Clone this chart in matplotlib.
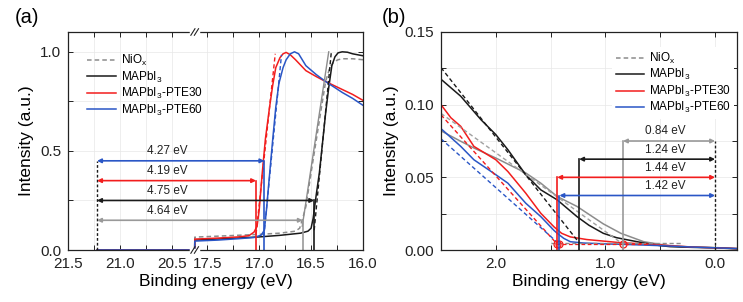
import numpy as np
import matplotlib
matplotlib.use("Agg")
import matplotlib.pyplot as plt
from matplotlib.ticker import FixedLocator, FormatStrFormatter, MultipleLocator

plt.rcParams['font.family'] = ['Liberation Sans', 'DejaVu Sans']
plt.rcParams['mathtext.default'] = 'regular'

# colours
C_GRAY = '#8c8c8c'
C_BLACK = '#1a1a1a'
C_RED = '#f21d1d'
C_BLUE = '#2a56c6'

labels = ['NiO$_x$', 'MAPbI$_3$', 'MAPbI$_3$-PTE30', 'MAPbI$_3$-PTE60']

# ---- panel (a): secondary electron cutoff ----
# broken axis: 21.5-20.28 then 17.62-16.0
BRK_L, BRK_R = 20.28, 17.62

a_gray_x = [21.22, 20.28, 17.62, 17.3, 17.0, 16.8, 16.65, 16.61, 16.58, 16.55, 16.5, 16.45,
            16.4, 16.36, 16.32, 16.28, 16.24, 16.2, 16.1, 16.0]
a_gray_y = [0, 0, 0.065, 0.072, 0.079, 0.085, 0.095, 0.11, 0.16, 0.22, 0.39, 0.555,
            0.72, 0.85, 0.92, 0.95, 0.96, 0.965, 0.965, 0.96]

a_black_x = [21.22, 20.28, 17.62, 17.3, 17.0, 16.8, 16.6, 16.53, 16.5, 16.48, 16.45, 16.42,
             16.39, 16.36, 16.33, 16.3, 16.27, 16.24, 16.2, 16.15, 16.1, 16.05, 16.0]
a_black_y = [0, 0, 0.05, 0.058, 0.066, 0.074, 0.085, 0.095, 0.11, 0.16, 0.28, 0.39,
             0.54, 0.69, 0.82, 0.93, 0.975, 0.995, 1.0, 0.998, 0.99, 0.985, 0.98]

a_red_x = [21.22, 20.28, 17.62, 17.4, 17.2, 17.1, 17.05, 17.02, 17.0, 16.97, 16.94, 16.9,
           16.87, 16.84, 16.8, 16.77, 16.74, 16.7, 16.65, 16.55, 16.45, 16.36, 16.2, 16.1, 16.0]
a_red_y = [0, 0, 0.055, 0.06, 0.066, 0.072, 0.09, 0.12, 0.2, 0.39, 0.56, 0.72,
           0.83, 0.92, 0.97, 0.99, 0.997, 0.985, 0.96, 0.905, 0.875, 0.85, 0.81, 0.785, 0.755]

a_blue_x = [21.22, 20.28, 17.62, 17.4, 17.2, 17.05, 16.98, 16.95, 16.93, 16.9, 16.87, 16.84,
            16.81, 16.77, 16.74, 16.7, 16.66, 16.62, 16.55, 16.45, 16.36, 16.2, 16.1, 16.0]
a_blue_y = [0, 0, 0.045, 0.05, 0.057, 0.063, 0.075, 0.1, 0.2, 0.38, 0.555, 0.72,
            0.84, 0.92, 0.96, 0.99, 1.0, 0.99, 0.93, 0.885, 0.85, 0.795, 0.765, 0.73]

# linear fits of the cutoff edges
a_fit_gray = ([16.585, 16.33], [0.12, 1.0])
a_fit_black = ([16.47, 16.305], [0.1, 1.0])
a_fit_red = ([17.03, 16.845], [0.08, 0.99])
a_fit_blue = ([16.955, 16.785], [0.07, 0.985])

# cutoffs (He I = 21.22 eV) and arrow heights
HE_I = 21.22
a_cut = [16.58, 16.47, 17.03, 16.95]
a_arrow_y = [0.15, 0.25, 0.35, 0.45]
a_wf_text = ['4.64 eV', '4.75 eV', '4.19 eV', '4.27 eV']

# ---- panel (b): valence band edge ----
b_gray_x = [2.5, 2.32, 2.2, 2.0, 1.727, 1.59, 1.44, 1.26, 1.02, 0.86, 0.65, 0.41, 0.2, 0.0, -0.2]
b_gray_y = [0.082, 0.0748, 0.0702, 0.0633, 0.053, 0.046, 0.0368, 0.030, 0.018, 0.0115, 0.0057,
            0.0028, 0.002, 0.0017, 0.001]

b_black_x = [2.5, 2.32, 2.136, 2.0, 1.89, 1.727, 1.59, 1.44, 1.26, 1.15, 1.02, 0.9, 0.8, 0.71,
             0.6, 0.5, 0.41, 0.3, 0.2, 0.0, -0.2]
b_black_y = [0.1175, 0.1058, 0.0897, 0.0794, 0.069, 0.0518, 0.0414, 0.0345, 0.023, 0.017, 0.0115,
             0.0085, 0.007, 0.0057, 0.0042, 0.003, 0.0023, 0.002, 0.0018, 0.0015, 0.0008]

b_red_x = [2.5, 2.41, 2.32, 2.2, 2.0, 1.89, 1.727, 1.59, 1.47, 1.4, 1.32, 1.17, 1.0, 0.86, 0.6,
           0.41, 0.2, 0.0, -0.2]
b_red_y = [0.1, 0.091, 0.0851, 0.0713, 0.0621, 0.054, 0.0391, 0.0253, 0.016, 0.0115, 0.009,
           0.0072, 0.006, 0.005, 0.004, 0.003, 0.002, 0.0015, 0.001]

b_blue_x = [2.5, 2.32, 2.2, 2.0, 1.89, 1.727, 1.59, 1.47, 1.44, 1.38, 1.32, 1.2, 1.0, 0.8, 0.5,
            0.2, 0.0, -0.2]
b_blue_y = [0.0835, 0.0713, 0.0621, 0.0518, 0.046, 0.0322, 0.023, 0.0135, 0.0115, 0.008, 0.0057,
            0.0048, 0.0042, 0.0038, 0.003, 0.002, 0.0015, 0.001]

b_fit_gray = ([2.5, 0.84], [0.094, 0.004])
b_fit_black = ([2.5, 1.24], [0.1255, 0.005])
b_fit_red = ([2.5, 1.44], [0.093, 0.004])
b_fit_blue = ([2.5, 1.42], [0.0765, 0.004])
b_base_gray = ([1.5, 0.3], [0.0045, 0.0045])
b_base_red = ([1.45, 0.6], [0.0038, 0.0038])

b_vbm = [0.84, 1.24, 1.44, 1.42]
b_arrow_y = [0.075, 0.0625, 0.05, 0.0375]
b_vbm_text = ['0.84 eV', '1.24 eV', '1.44 eV', '1.42 eV']


def fwd(x):
    return np.interp(x, [0, BRK_R, BRK_L, 50], [0, BRK_R, BRK_R + 1e-3, BRK_R + 1e-3 + 50 - BRK_L])


def inv(u):
    return np.interp(u, [0, BRK_R, BRK_R + 1e-3, BRK_R + 1e-3 + 50 - BRK_L], [0, BRK_R, BRK_L, 50])


def style_axes(ax):
    for s in ax.spines.values():
        s.set_linewidth(0.9)
        s.set_color('#222222')
    ax.tick_params(which='both', direction='in', top=True, right=True, length=3.5,
                   width=0.7, labelsize=11, colors='#222222', pad=5)
    ax.grid(which='both', color='#e8e8e8', lw=0.5)
    ax.set_axisbelow(True)


def arrow(ax, x0, x1, y, c):
    ax.annotate('', xy=(x1, y), xytext=(x0, y),
                arrowprops=dict(arrowstyle='<|-|>', color=c, lw=1.2, mutation_scale=6,
                                shrinkA=0, shrinkB=0))


fig = plt.figure(figsize=(7.43, 3.02), dpi=100)
ax1 = fig.add_axes([68 / 743, 52 / 302, 295 / 743, 218 / 302])
ax2 = fig.add_axes([441 / 743, 52 / 302, 296 / 743, 218 / 302])

arrow_colors = ['#999999', C_BLACK, C_RED, C_BLUE]
leg_kw = dict(fontsize=8.5, handlelength=2.4, handletextpad=0.4, labelspacing=0.12,
              borderaxespad=0)

# panel (a)
ax1.set_xscale('function', functions=(fwd, inv))
ax1.plot(a_gray_x, a_gray_y, color=C_GRAY, lw=1.1, ls=(0, (3, 2)), label=labels[0])
ax1.plot(a_black_x, a_black_y, color=C_BLACK, lw=1.1, label=labels[1])
ax1.plot(a_red_x, a_red_y, color=C_RED, lw=1.1, label=labels[2])
ax1.plot(a_blue_x, a_blue_y, color=C_BLUE, lw=1.1, label=labels[3])
ax1.plot(*a_fit_gray, color=C_GRAY, lw=1.0)
ax1.plot(*a_fit_black, color=C_BLACK, lw=1.0, ls=(0, (3, 2)))
ax1.plot(*a_fit_red, color=C_RED, lw=1.0, ls=(0, (3, 2)))
ax1.plot(*a_fit_blue, color=C_BLUE, lw=1.0, ls=(0, (3, 2)))

ax1.plot([HE_I, HE_I], [0, max(a_arrow_y)], color=C_BLACK, lw=1.0, ls=(0, (2, 1.5)))
for xc, ya, txt, c in zip(a_cut, a_arrow_y, a_wf_text, arrow_colors):
    ax1.plot([xc, xc], [0, ya], color=c, lw=1.2)
    arrow(ax1, HE_I, xc, ya, c)
    ax1.text(20.54, ya + 0.017, txt, ha='center', va='bottom', fontsize=8.5, color='#222222')

ax1.set_xlim(21.5, 16.0)
ax1.set_ylim(0, 1.1)
ax1.xaxis.set_major_locator(FixedLocator([21.5, 21.0, 20.5, 17.5, 17.0, 16.5, 16.0]))
ax1.xaxis.set_minor_locator(FixedLocator([21.25, 20.75, 17.25, 16.75, 16.25]))
ax1.xaxis.set_major_formatter(FormatStrFormatter('%.1f'))
ax1.yaxis.set_major_locator(MultipleLocator(0.5))
ax1.yaxis.set_minor_locator(MultipleLocator(0.25))
ax1.yaxis.set_major_formatter(FormatStrFormatter('%.1f'))
style_axes(ax1)
ax1.set_xlabel('Binding energy (eV)', fontsize=12.5, labelpad=2)
ax1.set_ylabel('Intensity (a.u.)', fontsize=12.5, labelpad=4)
ax1.legend(loc='upper left', bbox_to_anchor=(0.05, 0.925), frameon=False, **leg_kw)

# axis break marks
frac = (fwd(21.5) - fwd(BRK_L)) / (fwd(21.5) - fwd(16.0))
for yb in (0, 1):
    ax1.plot([frac - 0.012, frac + 0.012], [yb, yb], transform=ax1.transAxes,
             color='white', lw=2.5, clip_on=False, zorder=5)
    for dx in (-0.006, 0.006):
        ax1.plot([frac + dx - 0.007, frac + dx + 0.007], [yb - 0.015, yb + 0.015],
                 transform=ax1.transAxes, color='#222222', lw=0.8, clip_on=False, zorder=6)

# panel (b)
ax2.plot(b_gray_x, b_gray_y, color=C_GRAY, lw=1.1)
ax2.plot(b_black_x, b_black_y, color=C_BLACK, lw=1.1)
ax2.plot(b_red_x, b_red_y, color=C_RED, lw=1.1)
ax2.plot(b_blue_x, b_blue_y, color=C_BLUE, lw=1.1)
ax2.plot(*b_fit_gray, color='#a0a0a0', lw=1.0, ls=(0, (3, 2)))
ax2.plot(*b_fit_black, color=C_BLACK, lw=1.0, ls=(0, (3, 2)))
ax2.plot(*b_fit_red, color=C_RED, lw=1.0, ls=(0, (3, 2)))
ax2.plot(*b_fit_blue, color=C_BLUE, lw=1.0, ls=(0, (3, 2)))
ax2.plot(*b_base_gray, color=C_GRAY, lw=1.0, ls=(0, (3, 2)))
ax2.plot(*b_base_red, color=C_RED, lw=0.9, ls=(0, (3, 2)))
ax2.plot([1.44, 1.42, 0.84], [0.004, 0.004, 0.004], ls='none', marker='o', ms=5,
         mfc='none', mec=C_RED, mew=0.9)

ax2.plot([0, 0], [0, max(b_arrow_y)], color=C_BLACK, lw=1.0, ls=(0, (2, 1.5)))
for xv, ya, txt, c in zip(b_vbm, b_arrow_y, b_vbm_text, arrow_colors):
    ax2.plot([xv, xv], [0, ya], color=c, lw=1.2)
    arrow(ax2, 0.0, xv, ya, c)
    ax2.text(0.45, ya + 0.0025, txt, ha='center', va='bottom', fontsize=8.5, color='#222222')

# legend handles for (b)
hb = [ax2.plot([], [], color=C_GRAY, lw=1.1, ls=(0, (3, 2)))[0],
      ax2.plot([], [], color=C_BLACK, lw=1.1)[0],
      ax2.plot([], [], color=C_RED, lw=1.1)[0],
      ax2.plot([], [], color=C_BLUE, lw=1.1)[0]]
ax2.legend(hb, labels, loc='upper right', bbox_to_anchor=(0.99, 0.93), frameon=True,
           facecolor='white', edgecolor='none', framealpha=1, fancybox=False,
           borderpad=0.3, **leg_kw)

ax2.set_xlim(2.5, -0.2)
ax2.set_ylim(0, 0.15)
ax2.xaxis.set_major_locator(FixedLocator([2.0, 1.0, 0.0]))
ax2.xaxis.set_minor_locator(FixedLocator([2.5, 1.5, 0.5]))
ax2.xaxis.set_major_formatter(FormatStrFormatter('%.1f'))
ax2.yaxis.set_major_locator(MultipleLocator(0.05))
ax2.yaxis.set_minor_locator(MultipleLocator(0.025))
ax2.yaxis.set_major_formatter(FormatStrFormatter('%.2f'))
style_axes(ax2)
ax2.set_xlabel('Binding energy (eV)', fontsize=12.5, labelpad=2)
ax2.set_ylabel('Intensity (a.u.)', fontsize=12.5, labelpad=4)

fig.text(15 / 743, 1 - 8 / 302, '(a)', fontsize=14.5, va='top', ha='left')
fig.text(382 / 743, 1 - 8 / 302, '(b)', fontsize=14.5, va='top', ha='left')

fig.savefig('out.png', dpi=100)
